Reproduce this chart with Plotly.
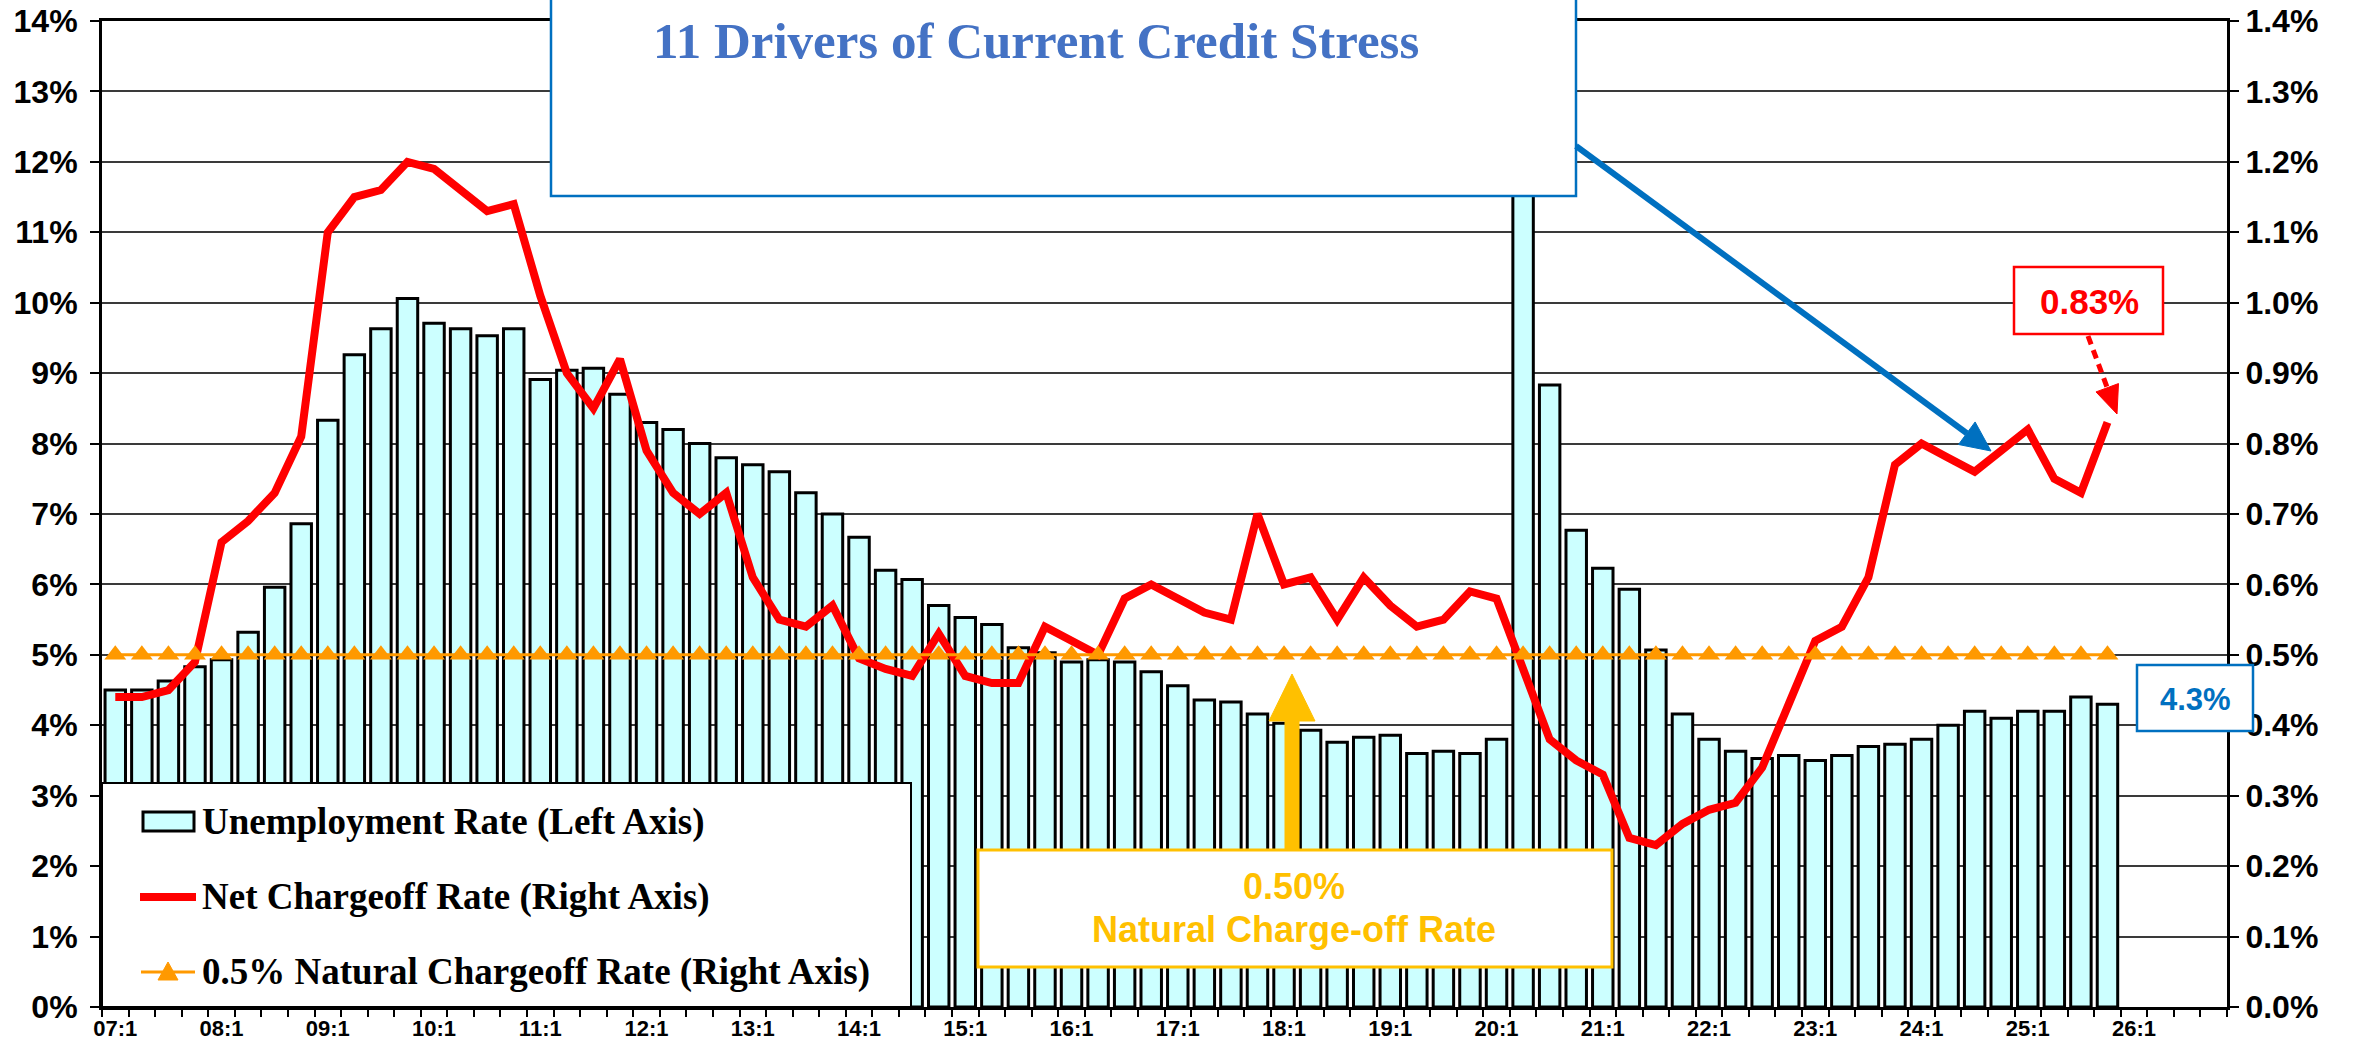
import math
import plotly.graph_objects as go

# Quarterly axis slots 07:1 .. 26:4 (data runs through 25:4)
axis_quarters = [f"{yy:02d}:{q}" for yy in range(7, 27) for q in range(1, 5)]

# Unemployment rate, % (left axis), 2007Q1 - 2025Q4
unemployment = [
    4.50, 4.50, 4.63, 4.83,   # 2007
    4.93, 5.32, 5.96, 6.86,   # 2008
    8.33, 9.26, 9.63, 10.06,  # 2009
    9.71, 9.63, 9.53, 9.63,   # 2010
    8.91, 9.04, 9.07, 8.70,   # 2011
    8.30, 8.20, 8.00, 7.80,   # 2012
    7.70, 7.60, 7.30, 7.00,   # 2013
    6.67, 6.20, 6.07, 5.70,   # 2014
    5.53, 5.43, 5.10, 5.03,   # 2015
    4.90, 4.93, 4.90, 4.76,   # 2016
    4.56, 4.36, 4.33, 4.16,   # 2017
    4.03, 3.93, 3.76, 3.83,   # 2018
    3.86, 3.60, 3.63, 3.60,   # 2019
    3.80, 13.00, 8.83, 6.77,  # 2020
    6.23, 5.93, 5.07, 4.16,   # 2021
    3.80, 3.63, 3.53, 3.57,   # 2022
    3.50, 3.57, 3.70, 3.73,   # 2023
    3.80, 4.00, 4.20, 4.10,   # 2024
    4.20, 4.20, 4.40, 4.30,   # 2025
]

# Net charge-off rate, % (right axis), 2007Q1 - 2025Q4
chargeoff = [
    0.44, 0.44, 0.45, 0.49,
    0.66, 0.69, 0.73, 0.81,
    1.10, 1.15, 1.16, 1.20,
    1.19, 1.16, 1.13, 1.14,
    1.01, 0.90, 0.85, 0.92,
    0.79, 0.73, 0.70, 0.73,
    0.61, 0.55, 0.54, 0.57,
    0.495, 0.48, 0.47, 0.53,
    0.47, 0.46, 0.46, 0.54,
    0.52, 0.50, 0.58, 0.60,
    0.58, 0.56, 0.55, 0.70,
    0.60, 0.61, 0.55, 0.61,
    0.57, 0.54, 0.55, 0.59,
    0.58, 0.48, 0.38, 0.35,
    0.33, 0.24, 0.23, 0.26,
    0.28, 0.29, 0.34, 0.43,
    0.52, 0.54, 0.61, 0.77,
    0.80, 0.78, 0.76, 0.79,
    0.82, 0.75, 0.73, 0.83,
]

NATURAL_RATE = 0.50
periods = axis_quarters[:len(unemployment)]
natural = [NATURAL_RATE] * len(periods)

latest_chargeoff = chargeoff[-1]
latest_unemployment = unemployment[-1]

# ---- figure geometry (pixels) ----
W, H = 2356, 1047
PL, PR, PT, PB = 102, 2227, 21, 1007


def px(x):
    return (x - PL) / (PR - PL)


def py(y):
    return (PB - y) / (PB - PT)


SANS = "Liberation Sans"
SERIF = "Liberation Serif"
CYAN = "#CCFFFF"
RED = "#FF0000"
ORANGE = "#FF9900"
GOLD = "#FFC000"
BLUE = "#0070C0"
TITLE_BLUE = "#4472C4"

fig = go.Figure()

fig.add_trace(go.Bar(
    x=periods, y=unemployment, name="Unemployment Rate (Left Axis)",
    marker=dict(color=CYAN, line=dict(color="black", width=3)),
    yaxis="y",
))
fig.add_trace(go.Scatter(
    x=periods, y=chargeoff, name="Net Chargeoff Rate (Right Axis)",
    mode="lines", line=dict(color=RED, width=8), yaxis="y2",
))
fig.add_trace(go.Scatter(
    x=periods, y=natural, name="0.5% Natural Chargeoff Rate (Right Axis)",
    mode="lines+markers", line=dict(color=ORANGE, width=3),
    marker=dict(symbol="triangle-up", size=19, color=ORANGE), yaxis="y2",
))

shapes = []
annotations = []


def rect(x0, y0, x1, y1, color, width, fill="white"):
    shapes.append(dict(type="rect", xref="paper", yref="paper",
                       x0=px(x0), x1=px(x1), y0=py(y1), y1=py(y0),
                       fillcolor=fill, line=dict(color=color, width=width),
                       layer="above"))


def arrow(x0, y0, x1, y1, width, head_len, head_w, color, dash="solid"):
    dx, dy = x1 - x0, y1 - y0
    length = math.hypot(dx, dy)
    ux, uy = dx / length, dy / length
    bx, by = x1 - ux * head_len, y1 - uy * head_len
    nx, ny = -uy, ux
    shapes.append(dict(type="line", xref="paper", yref="paper",
                       x0=px(x0), y0=py(y0), x1=px(bx), y1=py(by),
                       line=dict(color=color, width=width, dash=dash), layer="above"))
    p1 = (bx + nx * head_w / 2, by + ny * head_w / 2)
    p2 = (bx - nx * head_w / 2, by - ny * head_w / 2)
    path = (f"M {px(x1)},{py(y1)} L {px(p1[0])},{py(p1[1])} "
            f"L {px(p2[0])},{py(p2[1])} Z")
    shapes.append(dict(type="path", xref="paper", yref="paper", path=path,
                       fillcolor=color, line=dict(color=color, width=1), layer="above"))


def text(x, y, s, size, color, family=SANS, anchor="center"):
    annotations.append(dict(xref="paper", yref="paper", x=px(x), y=py(y),
                            text=f"<b>{s}</b>", showarrow=False,
                            xanchor=anchor, yanchor="middle",
                            font=dict(family=family, size=size, color=color)))


# Title panel
rect(551, -10, 1576, 196, BLUE, 2.5)
text(1036, 41, "11 Drivers of Current Credit Stress", 51, TITLE_BLUE, family=SERIF)
arrow(1576, 146, 1991, 451, 6, 30, 28, BLUE)

# Latest charge-off call-out
rect(2014, 267, 2163, 334, RED, 2.5)
text(2089, 301, f"{latest_chargeoff:.2f}%", 35, RED)
arrow(2088, 336, 2117, 414, 5, 28, 24, RED, dash="9px,6px")

# Latest unemployment call-out
rect(2137, 665, 2253, 731, BLUE, 2.5)
text(2195, 699, f"{latest_unemployment:.1f}%", 31, BLUE)

# Natural charge-off rate call-out
rect(978, 850, 1612, 967, GOLD, 3)
arrow(1292, 850, 1292, 674, 15, 47, 46, GOLD)
text(1294, 886, f"{NATURAL_RATE:.2f}%", 36, GOLD)
text(1294, 929, "Natural Charge-off Rate", 36, GOLD)

# Legend panel
rect(PL, 783, 911, 1007, "black", 2)
rect(143, 812, 194, 831, "black", 3, fill=CYAN)
shapes.append(dict(type="line", xref="paper", yref="paper",
                   x0=px(140), x1=px(196), y0=py(897), y1=py(897),
                   line=dict(color=RED, width=8), layer="above"))
shapes.append(dict(type="line", xref="paper", yref="paper",
                   x0=px(141), x1=px(195), y0=py(972), y1=py(972),
                   line=dict(color=ORANGE, width=3), layer="above"))
shapes.append(dict(type="path", xref="paper", yref="paper",
                   path=f"M {px(168)},{py(962)} L {px(178)},{py(980)} L {px(158)},{py(980)} Z",
                   fillcolor=ORANGE, line=dict(color=ORANGE, width=1), layer="above"))
text(200, 822, "Unemployment Rate (Left Axis)", 37, "black", family=SERIF, anchor="left")
text(200, 897, "Net Chargeoff Rate (Right Axis)", 37, "black", family=SERIF, anchor="left")
text(200, 972, "0.5% Natural Chargeoff Rate (Right Axis)", 37, "black", family=SERIF, anchor="left")

tick_text = [q if q.endswith(":1") else "" for q in axis_quarters]

fig.update_layout(
    width=W, height=H, autosize=False,
    margin=dict(l=PL, r=W - PR, t=PT, b=H - PB, pad=0),
    paper_bgcolor="white", plot_bgcolor="white",
    showlegend=False, bargap=0.23,
    shapes=shapes, annotations=annotations,
    xaxis=dict(
        type="category", categoryorder="array", categoryarray=axis_quarters,
        range=[-0.5, len(axis_quarters) - 0.5],
        tickmode="array", tickvals=axis_quarters, ticktext=tick_text,
        tickson="boundaries", ticks="outside", ticklen=7, tickwidth=1.5, tickcolor="black",
        showline=True, linecolor="black", linewidth=3, mirror=True,
        showgrid=False, automargin=False, tickangle=0,
        tickfont=dict(family=SANS, size=22, color="black", weight="bold"),
    ),
    yaxis=dict(
        range=[0, 14], dtick=1, ticksuffix="%",
        showgrid=True, gridcolor="#3a3a3a", gridwidth=1.5,
        showline=True, linecolor="black", linewidth=3,
        ticks="outside", ticklen=9, tickwidth=1.5, tickcolor="black",
        ticklabelstandoff=6,
        zeroline=False, automargin=False,
        tickfont=dict(family=SANS, size=32, color="black", weight="bold"),
    ),
    yaxis2=dict(
        range=[0, 1.4], dtick=0.1, tickformat=".1f", ticksuffix="%",
        overlaying="y", side="right", showgrid=False,
        showline=True, linecolor="black", linewidth=3,
        ticks="outside", ticklen=9, tickwidth=1.5, tickcolor="black",
        zeroline=False, automargin=False,
        tickfont=dict(family=SANS, size=32, color="black", weight="bold"),
    ),
)

fig.write_html("out.html")
